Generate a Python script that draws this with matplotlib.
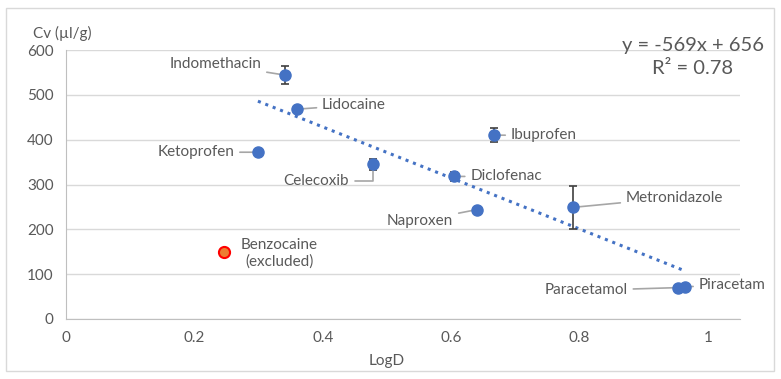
import numpy as np
import matplotlib.pyplot as plt
from matplotlib.patches import Rectangle

plt.rcParams['font.family'] = ['Lato', 'DejaVu Sans']

# data
drugs = ['Indomethacin', 'Lidocaine', 'Ketoprofen', 'Celecoxib', 'Ibuprofen',
         'Diclofenac', 'Naproxen', 'Metronidazole', 'Paracetamol', 'Piracetam']
logd = [0.341, 0.360, 0.299, 0.478, 0.667, 0.604, 0.640, 0.790, 0.953, 0.964]
cv = [544, 468, 372, 345, 410, 318, 244, 249, 70, 72]
cv_err = [20, 0, 0, 12, 15, 10, 0, 48, 0, 0]
excl_name = 'Benzocaine\n(excluded)'
excl_logd = 0.246
excl_cv = 150
slope, intercept, r2 = -569, 656, 0.78

# label offsets in points (dx, dy, ha)
label_pos = {
    'Indomethacin': (-17, 8, 'right'),
    'Lidocaine': (18, 3, 'left'),
    'Ketoprofen': (-17, 0, 'right'),
    'Celecoxib': (-17, -12, 'right'),
    'Ibuprofen': (12, 0, 'left'),
    'Diclofenac': (12, 0, 'left'),
    'Naproxen': (-17, -8, 'right'),
    'Metronidazole': (38, 7, 'left'),
    'Paracetamol': (-36, -2, 'right'),
    'Piracetam': (10, 1, 'left'),
}

blue = '#4472C4'
txt = '#595959'
grid = '#D9D9D9'

fig = plt.figure(figsize=(7.81, 3.79), dpi=100)
fig.patches.append(Rectangle((6 / 781, 8 / 379), 768 / 781, 363 / 379,
                             transform=fig.transFigure, fill=False,
                             edgecolor='#D9D9D9', lw=1))
ax = fig.add_axes([66 / 781, 1 - 319 / 379, 674 / 781, 269 / 379])

ax.set_xlim(0, 1.05)
ax.set_ylim(0, 600)
ax.set_xticks(np.arange(0, 1.01, 0.2))
ax.set_xticklabels(['0', '0.2', '0.4', '0.6', '0.8', '1'])
ax.set_yticks(np.arange(0, 601, 100))
ax.yaxis.grid(True, color=grid, lw=1)
ax.set_axisbelow(True)
for s in ['top', 'right']:
    ax.spines[s].set_visible(False)
ax.spines['left'].set_color('#BFBFBF')
ax.spines['bottom'].set_color('#BFBFBF')
ax.tick_params(length=0, labelsize=11, colors=txt, pad=9)

# trendline
xs = np.array([min(logd), max(logd)])
ax.plot(xs, slope * xs + intercept, ls=(0, (1, 1.6)), color=blue, lw=2.2, zorder=2)

ax.errorbar(logd, cv, yerr=cv_err, fmt='o', color=blue, ms=8, ecolor='#404040',
            elinewidth=1.2, capsize=3.2, capthick=1.2, zorder=3)
ax.plot(excl_logd, excl_cv, 'o', ms=8, mfc='#ED7D31', mec='#FF0000', mew=1.5, zorder=3)

for name, x, y in zip(drugs, logd, cv):
    dx, dy, ha = label_pos[name]
    ax.annotate(name, (x, y), xytext=(dx, dy), textcoords='offset points',
                ha=ha, va='center', fontsize=11, color=txt,
                arrowprops=dict(arrowstyle='-', color='#A6A6A6', lw=1.2,
                                shrinkA=2, shrinkB=0,
                                connectionstyle='angle,angleA=0,angleB=90,rad=0'
                                if name in ('Celecoxib',) else 'arc3'))

ax.annotate(excl_name, (excl_logd, excl_cv), xytext=(12, -1), textcoords='offset points',
            ha='left', va='center', fontsize=11, color=txt, multialignment='center')

fig.text(693 / 781, 1 - 57 / 379, f'y = {slope}x + {intercept}\nR² = {r2}',
         ha='center', va='center', fontsize=14.5, color=txt, multialignment='center',
         linespacing=1.45)

fig.text(62 / 781, 1 - 33 / 379, 'Cv (µl/g)', ha='center', va='center', fontsize=11, color=txt)
fig.text(387 / 781, 1 - 361 / 379, 'LogD', ha='center', va='center', fontsize=11, color=txt)

fig.savefig('out.png', dpi=100)
